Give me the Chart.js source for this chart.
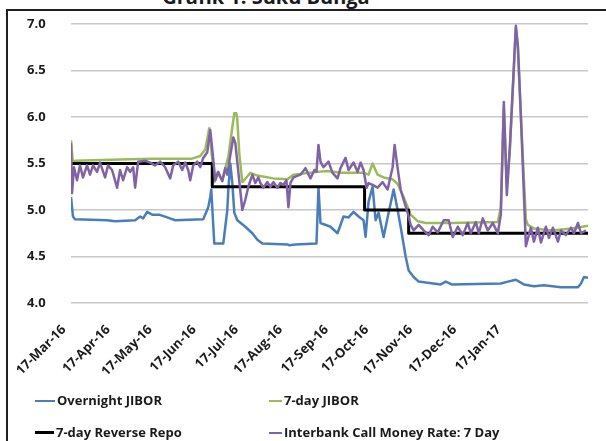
<!DOCTYPE html>
<html><head><meta charset="utf-8">
<script src="https://cdn.jsdelivr.net/npm/chart.js@4.4.1/dist/chart.umd.min.js"></script>
<style>
html,body{margin:0;padding:0;background:#fff;overflow:hidden;}
#wrap{position:relative;width:606px;height:441px;overflow:hidden;}
#frame{position:absolute;left:6px;top:9px;width:700px;height:500px;border-left:2px solid #231f20;border-top:2px solid #231f20;}
#title{position:absolute;left:-37px;width:606px;top:-13px;text-align:center;font:bold 20px/20px "Open Sans";color:#1a1a1a;white-space:nowrap;}
canvas{position:absolute;left:0;top:0;}
.lg{position:absolute;font:bold 13px/16px "Open Sans";color:#1a1a1a;white-space:nowrap;}
.lg i{display:inline-block;vertical-align:middle;height:0;border-top:2.5px solid;margin-right:2px;position:relative;top:-1px;}
</style></head>
<body>
<div id="wrap">
<div id="title">Grafik 1. Suku Bunga</div>
<div id="frame"></div>
<canvas id="c" width="606" height="441"></canvas>
</div>
<script>
// ---- Data (x = trading-day index from 17-Mar-16) ----
const seriesNames = ["Overnight JIBOR", "7-day JIBOR", "7-day Reverse Repo", "Interbank Call Money Rate: 7 Day"];
const tickLabels = ["17-Mar-16","17-Apr-16","17-May-16","17-Jun-16","17-Jul-16","17-Aug-16","17-Sep-16","17-Oct-16","17-Nov-16","17-Dec-16","17-Jan-17"];
const tickDays = [0,22,43,65,86,108,131,151,173,195,217];

const overnightX = [0,1,2,18,22,32,34.5,36,38,40.5,44,48,52,66,68.5,69.5,70,71.5,76,78,78.5,79.5,80.5,81.5,83,87,90.5,93,95.5,108,109,112,122.5,123.5,124.5,129.5,133,136,138.5,141,143.5,146,147,148.5,150.5,152,153.5,156,158.5,161,163,164.5,167,168.5,171,173.5,177,184.5,187,190,214.5,218,222,226,231,236,244.5,253,254.5,256,258];
const overnightY = [5.14,4.93,4.90,4.89,4.88,4.89,4.93,4.91,4.98,4.95,4.95,4.92,4.89,4.90,5.03,5.14,5.22,4.64,4.64,5.00,5.22,5.50,5.29,4.97,4.89,4.82,4.75,4.68,4.64,4.63,4.62,4.63,4.64,5.24,4.86,4.82,4.75,4.93,4.92,4.98,4.93,4.89,4.71,5.09,5.25,4.89,4.97,4.71,4.97,5.22,5.00,4.82,4.50,4.35,4.28,4.23,4.22,4.20,4.23,4.20,4.21,4.23,4.25,4.20,4.18,4.19,4.17,4.17,4.21,4.28,4.27];

const jibor7X = [0,1,2,20,40,60,64.5,67,69,70.5,71.5,73,75.5,77,78.5,80.5,81.5,82.5,83,84,85.5,88,89.5,93,101,108,111,123,128,135,146,148.5,150.5,153,156,160.5,163,166,169.5,173,177,190,213,214.5,216,217.5,219,222,223,224.5,227,228,231,240,250,258];
const jibor7Y = [5.75,5.50,5.53,5.54,5.55,5.55,5.58,5.65,5.88,5.54,5.30,5.40,5.32,5.45,5.57,5.89,6.04,6.04,5.97,5.60,5.30,5.36,5.40,5.37,5.34,5.33,5.38,5.41,5.42,5.40,5.40,5.38,5.50,5.38,5.35,5.33,5.28,5.14,4.95,4.88,4.86,4.86,4.87,5.03,6.10,5.25,5.65,6.95,6.75,6.00,4.90,4.84,4.80,4.78,4.80,4.83];

const repoX = [0,70.5,146.5,168.5,258];
const repoY = [5.50,5.25,5.00,4.75,4.75];

const callX = [0,0.5,1.5,3,4.5,6,8,9.5,11,13,14.5,17,18.5,20.5,23,24.5,26,28,29.5,31,32,33.5,37,39.5,42,44.5,47,49.5,51,53.5,55.5,57,58.5,59.5,61,63,64.5,66,68,69.5,70.5,72,73.5,75.5,77,78,79.5,81,82,85.5,87,88.5,90.5,92,93.5,94.5,96,98,99.5,101,103,104.5,106,107.5,108.5,109.5,111,114.5,117,119.5,121.5,122.5,123.5,124.5,126,128.5,130.5,133,134.5,137,138.5,141,143,144.5,146,147.5,148.5,150.5,153,155.5,158,160.5,161.5,163,164.5,166,168,169.5,171,173.5,176,178.5,180.5,183,186,188.5,190.5,193,195.5,198,199.5,202,203.5,205.5,208,210.5,213,214.5,216,217.5,219,222,223,224.5,227,229.5,231,233,234.5,237,238.5,240.5,243,244.5,247,249.5,251,253,254.5,257];
const callY = [5.72,5.18,5.46,5.32,5.48,5.35,5.48,5.38,5.48,5.41,5.51,5.35,5.48,5.43,5.24,5.43,5.32,5.46,5.41,5.46,5.24,5.52,5.53,5.51,5.48,5.52,5.46,5.34,5.48,5.52,5.43,5.51,5.43,5.32,5.48,5.52,5.46,5.56,5.62,5.86,5.65,5.32,5.41,5.31,5.45,5.38,5.59,5.78,5.72,5.00,5.11,5.25,5.38,5.29,5.35,5.29,5.24,5.30,5.25,5.30,5.24,5.29,5.27,5.32,5.03,5.29,5.35,5.38,5.45,5.34,5.43,5.41,5.70,5.52,5.46,5.52,5.40,5.34,5.45,5.56,5.43,5.51,5.41,5.51,5.43,5.24,5.29,5.27,5.24,5.30,5.22,5.46,5.70,5.45,5.22,5.11,4.97,4.84,4.78,4.84,4.78,4.73,4.82,4.76,4.89,4.89,4.71,4.82,4.73,4.86,4.75,4.87,4.75,4.91,4.78,4.86,4.75,4.95,6.16,5.16,5.67,6.98,6.77,6.02,4.61,4.81,4.66,4.81,4.65,4.82,4.70,4.81,4.66,4.78,4.73,4.81,4.75,4.86,4.75,4.78];

// ---- Styles ----
const colors = ["#4a7ebb", "#9bbb59", "#000000", "#7f63a6"];
const widths = [2.5, 2.5, 3, 2.5];
const FONT = "'Open Sans', sans-serif";

function pts(xs, ys){ return xs.map((x,i)=>({x:x, y:ys[i]})); }

const ctx = document.getElementById('c').getContext('2d');
new Chart(ctx, {
  type: 'line',
  data: { datasets: [
    {label: seriesNames[0], data: pts(overnightX, overnightY), borderColor: colors[0], borderWidth: widths[0], order: 4},
    {label: seriesNames[1], data: pts(jibor7X, jibor7Y), borderColor: colors[1], borderWidth: widths[1], order: 3},
    {label: seriesNames[2], data: pts(repoX, repoY), borderColor: colors[2], borderWidth: widths[2], stepped: true, order: 2},
    {label: seriesNames[3], data: pts(callX, callY), borderColor: colors[3], borderWidth: widths[3], order: 1}
  ]},
  options: {
    responsive: false, animation: false,
    elements: { point: {radius: 0}, line: {tension: 0, borderJoinStyle: 'round', fill: false} },
    layout: { padding: { top: 24, right: 18, left: 27, bottom: 0 } },
    plugins: { legend: {display: false}, tooltip: {enabled: false} },
    scales: {
      x: {
        type: 'linear', min: 0, max: 258,
        grid: {display: false}, border: {display: false},
        afterBuildTicks: s => { s.ticks = tickDays.map(v => ({value: v})); },
        afterFit: s => { s.height = 138; },
        ticks: { autoSkip: false, minRotation: 45, maxRotation: 45, padding: 11, labelOffset: -7,
          color: '#1a1a1a', font: {family: FONT, size: 13, weight: 'bold'},
          callback: (v, i) => tickLabels[i] }
      },
      y: {
        min: 4, max: 7,
        grid: {color: '#c8c8c8', lineWidth: 1.5, drawTicks: false}, border: {display: false},
        afterFit: s => { s.width = 44; },
        ticks: { stepSize: 0.5, padding: 0, crossAlign: 'far', color: '#1a1a1a', font: {family: FONT, size: 13, weight: 'bold'},
          callback: v => v.toFixed(1) }
      }
    }
  }
});

// ---- Legend (HTML, from series names) ----
const legendPos = [
  {left: 35, top: 392, dash: 20},
  {left: 269, top: 392, dash: 13},
  {left: 35, top: 424, dash: 19},
  {left: 269, top: 424, dash: 13}
];
seriesNames.forEach((name, k) => {
  const d = document.createElement('div');
  d.className = 'lg';
  d.style.left = legendPos[k].left + 'px';
  d.style.top = legendPos[k].top + 'px';
  const i = document.createElement('i');
  i.style.width = legendPos[k].dash + 'px';
  i.style.borderTopColor = colors[k];
  i.style.borderTopWidth = (k === 2 ? 3 : 2.5) + 'px';
  d.appendChild(i);
  d.appendChild(document.createTextNode(name));
  document.getElementById('wrap').appendChild(d);
});
</script>
</body></html>
